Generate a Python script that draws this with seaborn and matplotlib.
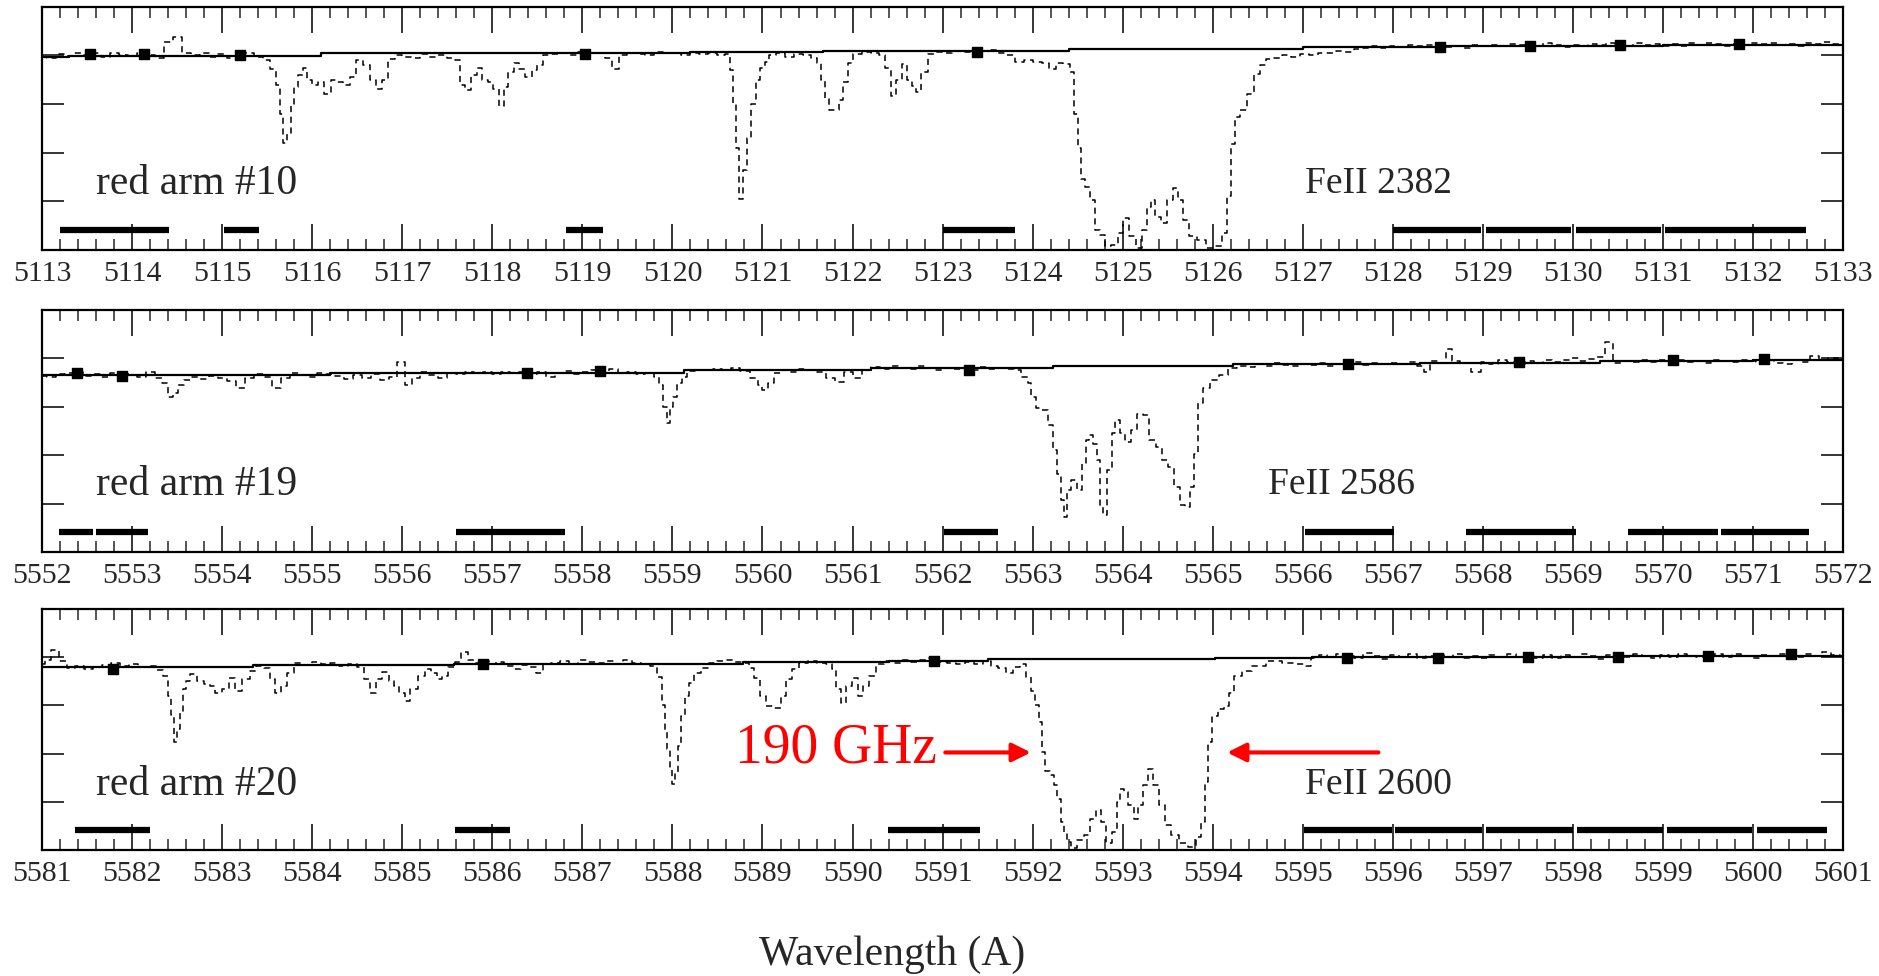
import numpy as np
import matplotlib
matplotlib.use("Agg")
import matplotlib.pyplot as plt
import seaborn as sns
from matplotlib.ticker import MultipleLocator, FormatStrFormatter

sns.set_style("white")
plt.rcParams['font.family'] = ['Liberation Serif', 'DejaVu Serif']

# ---------------- data ----------------
arm_labels = ["red arm #10", "red arm #19", "red arm #20"]
line_labels = ["FeII 2382", "FeII 2586", "FeII 2600"]
line_label_x = [5127.02, 5565.61, 5595.02]
x_ranges = [(5113, 5133), (5552, 5572), (5581, 5601)]

spec_arm10 = [
    (5113.00, 0.795), (5113.10, 0.790), (5113.20, 0.805), (5113.30, 0.798), (5113.40, 0.812),
    (5113.50, 0.800), (5113.60, 0.808), (5113.70, 0.795), (5113.80, 0.810), (5113.90, 0.802),
    (5114.00, 0.796), (5114.10, 0.810), (5114.20, 0.800), (5114.30, 0.790), (5114.40, 0.855),
    (5114.50, 0.875), (5114.60, 0.812), (5114.70, 0.800), (5114.80, 0.808), (5114.90, 0.795),
    (5115.00, 0.805), (5115.10, 0.790), (5115.20, 0.808), (5115.30, 0.812), (5115.40, 0.795),
    (5115.50, 0.780), (5115.57, 0.745), (5115.62, 0.680), (5115.66, 0.560), (5115.70, 0.440),
    (5115.74, 0.480), (5115.78, 0.600), (5115.82, 0.670), (5115.87, 0.720), (5115.92, 0.750),
    (5115.97, 0.700), (5116.03, 0.680), (5116.10, 0.690), (5116.17, 0.640), (5116.24, 0.700),
    (5116.30, 0.690), (5116.38, 0.680), (5116.45, 0.710), (5116.52, 0.780), (5116.60, 0.760),
    (5116.68, 0.700), (5116.74, 0.660), (5116.80, 0.700), (5116.88, 0.785), (5116.95, 0.800),
    (5117.05, 0.795), (5117.15, 0.790), (5117.25, 0.805), (5117.35, 0.795), (5117.45, 0.800),
    (5117.55, 0.790), (5117.62, 0.780), (5117.67, 0.680), (5117.72, 0.656), (5117.80, 0.720),
    (5117.86, 0.750), (5117.92, 0.700), (5117.98, 0.690), (5118.04, 0.660), (5118.10, 0.590),
    (5118.15, 0.670), (5118.20, 0.730), (5118.27, 0.770), (5118.33, 0.745), (5118.40, 0.710),
    (5118.47, 0.740), (5118.53, 0.760), (5118.60, 0.800), (5118.70, 0.805), (5118.80, 0.812),
    (5118.90, 0.800), (5119.00, 0.815), (5119.10, 0.808), (5119.20, 0.812), (5119.30, 0.790),
    (5119.36, 0.745), (5119.45, 0.800), (5119.55, 0.812), (5119.65, 0.805), (5119.75, 0.800),
    (5119.85, 0.815), (5119.95, 0.808), (5120.05, 0.810), (5120.15, 0.800), (5120.25, 0.812),
    (5120.35, 0.805), (5120.45, 0.808), (5120.55, 0.800), (5120.62, 0.806), (5120.66, 0.740),
    (5120.69, 0.600), (5120.72, 0.420), (5120.76, 0.210), (5120.80, 0.330), (5120.85, 0.460),
    (5120.90, 0.600), (5120.95, 0.700), (5121.00, 0.750), (5121.05, 0.775), (5121.10, 0.800),
    (5121.20, 0.810), (5121.30, 0.795), (5121.40, 0.805), (5121.50, 0.800), (5121.58, 0.790),
    (5121.63, 0.770), (5121.67, 0.700), (5121.71, 0.620), (5121.76, 0.574), (5121.82, 0.574),
    (5121.87, 0.615), (5121.92, 0.690), (5121.97, 0.770), (5122.05, 0.805), (5122.15, 0.815),
    (5122.25, 0.810), (5122.33, 0.800), (5122.40, 0.750), (5122.45, 0.635), (5122.52, 0.700),
    (5122.58, 0.765), (5122.63, 0.700), (5122.68, 0.676), (5122.73, 0.650), (5122.80, 0.730),
    (5122.87, 0.806), (5122.95, 0.815), (5123.05, 0.812), (5123.15, 0.820), (5123.25, 0.815),
    (5123.35, 0.825), (5123.45, 0.818), (5123.55, 0.822), (5123.65, 0.812), (5123.75, 0.800),
    (5123.85, 0.775), (5123.95, 0.780), (5124.05, 0.775), (5124.15, 0.770), (5124.22, 0.745),
    (5124.30, 0.770), (5124.38, 0.765), (5124.44, 0.730), (5124.48, 0.560), (5124.52, 0.420),
    (5124.56, 0.290), (5124.61, 0.260), (5124.67, 0.205), (5124.72, 0.080), (5124.78, 0.060),
    (5124.83, 0.014), (5124.92, 0.020), (5124.97, 0.068), (5125.04, 0.130), (5125.11, 0.055),
    (5125.19, 0.007), (5125.24, 0.080), (5125.29, 0.178), (5125.33, 0.205), (5125.38, 0.137),
    (5125.46, 0.110), (5125.53, 0.205), (5125.58, 0.253), (5125.64, 0.205), (5125.70, 0.123),
    (5125.78, 0.055), (5125.88, 0.040), (5125.98, 0.007), (5126.07, 0.014), (5126.14, 0.068),
    (5126.18, 0.220), (5126.22, 0.437), (5126.27, 0.546), (5126.34, 0.574), (5126.42, 0.640),
    (5126.49, 0.724), (5126.56, 0.760), (5126.63, 0.785), (5126.72, 0.790), (5126.82, 0.800),
    (5126.92, 0.795), (5127.02, 0.805), (5127.12, 0.800), (5127.22, 0.812), (5127.32, 0.808),
    (5127.42, 0.820), (5127.52, 0.815), (5127.62, 0.828), (5127.72, 0.832), (5127.82, 0.838),
    (5127.92, 0.830), (5128.02, 0.840), (5128.12, 0.835), (5128.22, 0.845), (5128.32, 0.838),
    (5128.42, 0.842), (5128.52, 0.845), (5128.62, 0.835), (5128.72, 0.840), (5128.82, 0.830),
    (5128.92, 0.842), (5129.02, 0.838), (5129.12, 0.845), (5129.22, 0.840), (5129.32, 0.848),
    (5129.42, 0.842), (5129.52, 0.845), (5129.62, 0.838), (5129.72, 0.850), (5129.82, 0.842),
    (5129.92, 0.835), (5130.02, 0.845), (5130.12, 0.840), (5130.22, 0.848), (5130.32, 0.842),
    (5130.42, 0.852), (5130.52, 0.845), (5130.62, 0.838), (5130.72, 0.850), (5130.82, 0.842),
    (5130.92, 0.848), (5131.02, 0.840), (5131.12, 0.846), (5131.22, 0.838), (5131.32, 0.850),
    (5131.42, 0.844), (5131.52, 0.852), (5131.62, 0.846), (5131.72, 0.840), (5131.82, 0.848),
    (5131.92, 0.842), (5132.02, 0.852), (5132.12, 0.846), (5132.22, 0.850), (5132.32, 0.842),
    (5132.42, 0.848), (5132.52, 0.838), (5132.62, 0.852), (5132.72, 0.846), (5132.82, 0.855),
    (5132.92, 0.848), (5133.00, 0.850),
]

spec_arm19 = [
    (5552.00, 0.728), (5552.10, 0.722), (5552.20, 0.735), (5552.30, 0.740), (5552.40, 0.745),
    (5552.50, 0.728), (5552.60, 0.735), (5552.70, 0.725), (5552.80, 0.738), (5552.90, 0.742),
    (5553.00, 0.730), (5553.10, 0.722), (5553.20, 0.745), (5553.30, 0.720), (5553.37, 0.697),
    (5553.43, 0.641), (5553.48, 0.655), (5553.54, 0.690), (5553.62, 0.712), (5553.70, 0.725),
    (5553.80, 0.715), (5553.90, 0.728), (5554.00, 0.718), (5554.10, 0.705), (5554.20, 0.676),
    (5554.30, 0.720), (5554.40, 0.735), (5554.50, 0.725), (5554.60, 0.676), (5554.70, 0.720),
    (5554.80, 0.738), (5554.90, 0.730), (5555.00, 0.722), (5555.10, 0.740), (5555.20, 0.735),
    (5555.30, 0.728), (5555.40, 0.715), (5555.50, 0.732), (5555.60, 0.720), (5555.70, 0.735),
    (5555.80, 0.712), (5555.90, 0.725), (5555.99, 0.786), (5556.07, 0.690), (5556.15, 0.720),
    (5556.25, 0.745), (5556.35, 0.730), (5556.45, 0.718), (5556.55, 0.740), (5556.65, 0.735),
    (5556.75, 0.745), (5556.85, 0.738), (5556.95, 0.742), (5557.05, 0.735), (5557.15, 0.745),
    (5557.25, 0.738), (5557.35, 0.742), (5557.45, 0.735), (5557.55, 0.745), (5557.65, 0.725),
    (5557.75, 0.740), (5557.85, 0.748), (5557.95, 0.735), (5558.05, 0.742), (5558.15, 0.750),
    (5558.25, 0.745), (5558.35, 0.758), (5558.45, 0.740), (5558.55, 0.745), (5558.65, 0.735),
    (5558.75, 0.740), (5558.83, 0.725), (5558.88, 0.690), (5558.92, 0.600), (5558.95, 0.531),
    (5558.99, 0.600), (5559.03, 0.641), (5559.08, 0.697), (5559.13, 0.724), (5559.20, 0.748),
    (5559.30, 0.752), (5559.40, 0.750), (5559.50, 0.755), (5559.60, 0.752), (5559.70, 0.760),
    (5559.80, 0.748), (5559.92, 0.717), (5559.97, 0.690), (5560.03, 0.669), (5560.10, 0.700),
    (5560.16, 0.740), (5560.25, 0.752), (5560.35, 0.745), (5560.45, 0.755), (5560.55, 0.750),
    (5560.65, 0.742), (5560.75, 0.720), (5560.85, 0.703), (5560.95, 0.745), (5561.07, 0.717),
    (5561.15, 0.750), (5561.25, 0.765), (5561.35, 0.758), (5561.45, 0.770), (5561.55, 0.762),
    (5561.65, 0.755), (5561.75, 0.768), (5561.85, 0.760), (5561.95, 0.752), (5562.05, 0.762),
    (5562.15, 0.755), (5562.25, 0.760), (5562.35, 0.752), (5562.45, 0.765), (5562.55, 0.755),
    (5562.65, 0.762), (5562.75, 0.758), (5562.83, 0.750), (5562.92, 0.725), (5562.97, 0.697),
    (5563.00, 0.641), (5563.07, 0.593), (5563.14, 0.586), (5563.20, 0.524), (5563.25, 0.420),
    (5563.29, 0.324), (5563.33, 0.214), (5563.36, 0.145), (5563.40, 0.255), (5563.46, 0.297),
    (5563.52, 0.255), (5563.57, 0.366), (5563.61, 0.462), (5563.65, 0.483), (5563.69, 0.448),
    (5563.73, 0.379), (5563.76, 0.186), (5563.80, 0.152), (5563.86, 0.338), (5563.90, 0.490),
    (5563.94, 0.545), (5564.00, 0.490), (5564.06, 0.455), (5564.12, 0.503), (5564.19, 0.572),
    (5564.26, 0.566), (5564.33, 0.462), (5564.40, 0.434), (5564.47, 0.379), (5564.53, 0.352),
    (5564.60, 0.269), (5564.67, 0.193), (5564.72, 0.186), (5564.77, 0.269), (5564.82, 0.407),
    (5564.86, 0.614), (5564.92, 0.676), (5565.02, 0.710), (5565.12, 0.731), (5565.22, 0.759),
    (5565.32, 0.770), (5565.42, 0.765), (5565.52, 0.775), (5565.62, 0.770), (5565.72, 0.780),
    (5565.82, 0.772), (5565.92, 0.768), (5566.02, 0.778), (5566.12, 0.772), (5566.22, 0.782),
    (5566.32, 0.770), (5566.42, 0.778), (5566.52, 0.775), (5566.62, 0.785), (5566.72, 0.772),
    (5566.82, 0.780), (5566.92, 0.775), (5567.02, 0.782), (5567.12, 0.778), (5567.22, 0.785),
    (5567.32, 0.770), (5567.37, 0.745), (5567.45, 0.790), (5567.55, 0.782), (5567.62, 0.840),
    (5567.70, 0.788), (5567.80, 0.780), (5567.93, 0.745), (5568.02, 0.785), (5568.12, 0.778),
    (5568.22, 0.792), (5568.32, 0.785), (5568.42, 0.778), (5568.52, 0.788), (5568.62, 0.780),
    (5568.72, 0.792), (5568.82, 0.785), (5568.92, 0.795), (5569.02, 0.800), (5569.12, 0.790),
    (5569.22, 0.798), (5569.32, 0.805), (5569.40, 0.869), (5569.48, 0.780), (5569.58, 0.790),
    (5569.68, 0.785), (5569.78, 0.792), (5569.88, 0.785), (5569.98, 0.795), (5570.08, 0.788),
    (5570.18, 0.792), (5570.28, 0.785), (5570.38, 0.790), (5570.48, 0.782), (5570.58, 0.795),
    (5570.68, 0.790), (5570.78, 0.785), (5570.88, 0.795), (5570.98, 0.790), (5571.08, 0.785),
    (5571.18, 0.792), (5571.28, 0.780), (5571.38, 0.775), (5571.48, 0.792), (5571.58, 0.785),
    (5571.68, 0.810), (5571.78, 0.795), (5571.88, 0.802), (5572.00, 0.798),
]

spec_arm20 = [
    (5581.00, 0.770), (5581.06, 0.790), (5581.14, 0.832), (5581.24, 0.784), (5581.32, 0.755),
    (5581.42, 0.765), (5581.52, 0.750), (5581.62, 0.758), (5581.72, 0.768), (5581.82, 0.775),
    (5581.92, 0.762), (5582.02, 0.770), (5582.12, 0.758), (5582.22, 0.765), (5582.30, 0.745),
    (5582.38, 0.722), (5582.42, 0.640), (5582.45, 0.560), (5582.48, 0.447), (5582.52, 0.502),
    (5582.55, 0.571), (5582.58, 0.667), (5582.62, 0.700), (5582.67, 0.729), (5582.76, 0.702),
    (5582.84, 0.690), (5582.90, 0.681), (5582.95, 0.653), (5583.05, 0.667), (5583.11, 0.715),
    (5583.18, 0.660), (5583.27, 0.708), (5583.34, 0.743), (5583.42, 0.765), (5583.50, 0.755),
    (5583.56, 0.708), (5583.62, 0.653), (5583.69, 0.681), (5583.75, 0.736), (5583.85, 0.775),
    (5583.95, 0.768), (5584.05, 0.780), (5584.15, 0.770), (5584.25, 0.778), (5584.35, 0.765),
    (5584.45, 0.772), (5584.55, 0.760), (5584.61, 0.708), (5584.67, 0.653), (5584.74, 0.708),
    (5584.82, 0.740), (5584.88, 0.700), (5584.93, 0.681), (5584.99, 0.653), (5585.06, 0.619),
    (5585.12, 0.667), (5585.22, 0.722), (5585.28, 0.750), (5585.35, 0.735), (5585.41, 0.708),
    (5585.47, 0.722), (5585.55, 0.760), (5585.62, 0.780), (5585.69, 0.821), (5585.76, 0.790),
    (5585.84, 0.775), (5585.92, 0.785), (5586.00, 0.772), (5586.08, 0.780), (5586.18, 0.765),
    (5586.27, 0.750), (5586.37, 0.768), (5586.45, 0.760), (5586.52, 0.736), (5586.60, 0.770),
    (5586.70, 0.778), (5586.80, 0.785), (5586.90, 0.772), (5587.00, 0.790), (5587.10, 0.780),
    (5587.20, 0.775), (5587.30, 0.785), (5587.40, 0.770), (5587.50, 0.790), (5587.60, 0.778),
    (5587.70, 0.772), (5587.80, 0.763), (5587.86, 0.720), (5587.90, 0.600), (5587.93, 0.500),
    (5587.96, 0.420), (5587.98, 0.340), (5588.01, 0.275), (5588.05, 0.323), (5588.08, 0.433),
    (5588.11, 0.557), (5588.16, 0.640), (5588.21, 0.695), (5588.27, 0.736), (5588.37, 0.757),
    (5588.45, 0.775), (5588.55, 0.785), (5588.65, 0.790), (5588.75, 0.782), (5588.82, 0.775),
    (5588.88, 0.757), (5588.94, 0.715), (5589.00, 0.640), (5589.07, 0.598), (5589.17, 0.591),
    (5589.23, 0.640), (5589.29, 0.708), (5589.36, 0.750), (5589.45, 0.775), (5589.55, 0.785),
    (5589.65, 0.778), (5589.75, 0.772), (5589.80, 0.750), (5589.84, 0.667), (5589.90, 0.612),
    (5589.96, 0.681), (5590.03, 0.715), (5590.09, 0.640), (5590.15, 0.681), (5590.22, 0.722),
    (5590.30, 0.770), (5590.40, 0.785), (5590.50, 0.778), (5590.60, 0.790), (5590.70, 0.782),
    (5590.80, 0.788), (5590.90, 0.795), (5591.00, 0.780), (5591.10, 0.775), (5591.20, 0.772),
    (5591.30, 0.780), (5591.40, 0.770), (5591.50, 0.785), (5591.58, 0.765), (5591.66, 0.755),
    (5591.74, 0.736), (5591.82, 0.760), (5591.90, 0.770), (5591.96, 0.720), (5592.00, 0.660),
    (5592.05, 0.600), (5592.09, 0.530), (5592.12, 0.406), (5592.16, 0.330), (5592.22, 0.310),
    (5592.26, 0.268), (5592.29, 0.213), (5592.33, 0.117), (5592.36, 0.076), (5592.40, 0.034),
    (5592.45, 0.007), (5592.54, 0.041), (5592.61, 0.062), (5592.67, 0.131), (5592.73, 0.165),
    (5592.78, 0.117), (5592.85, 0.028), (5592.92, 0.076), (5592.95, 0.200), (5592.99, 0.254),
    (5593.03, 0.240), (5593.09, 0.186), (5593.15, 0.131), (5593.19, 0.186), (5593.26, 0.268),
    (5593.31, 0.337), (5593.37, 0.268), (5593.44, 0.186), (5593.50, 0.103), (5593.57, 0.062),
    (5593.68, 0.028), (5593.78, 0.014), (5593.85, 0.055), (5593.90, 0.117), (5593.93, 0.282),
    (5593.97, 0.447), (5594.02, 0.557), (5594.09, 0.585), (5594.16, 0.598), (5594.21, 0.653),
    (5594.27, 0.722), (5594.37, 0.743), (5594.51, 0.763), (5594.68, 0.784), (5594.85, 0.777),
    (5595.00, 0.770), (5595.06, 0.763), (5595.13, 0.798), (5595.22, 0.808), (5595.32, 0.800),
    (5595.42, 0.812), (5595.52, 0.805), (5595.62, 0.798), (5595.72, 0.818), (5595.82, 0.805),
    (5595.92, 0.792), (5596.02, 0.808), (5596.12, 0.800), (5596.22, 0.812), (5596.32, 0.795),
    (5596.42, 0.805), (5596.52, 0.810), (5596.62, 0.800), (5596.72, 0.815), (5596.82, 0.795),
    (5596.92, 0.805), (5597.02, 0.798), (5597.12, 0.808), (5597.22, 0.800), (5597.32, 0.812),
    (5597.42, 0.802), (5597.52, 0.805), (5597.62, 0.798), (5597.72, 0.810), (5597.82, 0.795),
    (5597.92, 0.808), (5598.02, 0.800), (5598.12, 0.815), (5598.22, 0.805), (5598.32, 0.792),
    (5598.42, 0.808), (5598.52, 0.810), (5598.62, 0.800), (5598.72, 0.815), (5598.82, 0.805),
    (5598.92, 0.798), (5599.02, 0.810), (5599.12, 0.802), (5599.22, 0.812), (5599.32, 0.805),
    (5599.42, 0.800), (5599.52, 0.808), (5599.62, 0.815), (5599.72, 0.800), (5599.82, 0.812),
    (5599.92, 0.805), (5600.02, 0.798), (5600.12, 0.810), (5600.22, 0.805), (5600.32, 0.815),
    (5600.42, 0.808), (5600.52, 0.800), (5600.62, 0.812), (5600.72, 0.806), (5600.82, 0.820),
    (5600.92, 0.810), (5601.00, 0.805),
]

# continuum fits (step breakpoints, value)
cont_x_10 = [5113.0, 5113.3, 5116.1, 5120.2, 5121.67, 5124.4, 5127.0, 5128.5, 5131.0, 5133.0]
cont_y_10 = [0.792, 0.799, 0.809, 0.813, 0.820, 0.826, 0.834, 0.840, 0.845, 0.845]
cont_x_19 = [5552.0, 5555.2, 5559.13, 5561.2, 5563.23, 5565.23, 5567.3, 5569.3, 5571.0, 5572.0]
cont_y_19 = [0.731, 0.738, 0.752, 0.759, 0.768, 0.777, 0.783, 0.789, 0.794, 0.794]
cont_x_20 = [5581.0, 5583.34, 5585.57, 5588.78, 5590.4, 5591.5, 5594.02, 5595.1, 5598.5, 5601.0]
cont_y_20 = [0.761, 0.768, 0.774, 0.781, 0.786, 0.791, 0.796, 0.800, 0.804, 0.804]

# fit markers
mark_x_10 = [5113.53, 5114.13, 5115.20, 5119.03, 5123.38, 5128.52, 5129.52, 5130.52, 5131.84]
mark_y_10 = [0.806, 0.806, 0.800, 0.806, 0.813, 0.833, 0.840, 0.844, 0.847]
mark_x_19 = [5552.39, 5552.89, 5557.39, 5558.19, 5562.29, 5566.50, 5568.40, 5570.11, 5571.12]
mark_y_19 = [0.738, 0.727, 0.741, 0.749, 0.754, 0.775, 0.786, 0.793, 0.796]
mark_x_20 = [5581.79, 5585.90, 5590.91, 5595.49, 5596.50, 5597.50, 5598.50, 5599.50, 5600.42]
mark_y_20 = [0.752, 0.774, 0.784, 0.798, 0.798, 0.802, 0.802, 0.805, 0.814]

# fitting-region bars (start, end)
bar_start_10 = [5113.20, 5115.02, 5118.82, 5123.00, 5128.00, 5129.03, 5130.03, 5131.02]
bar_end_10 = [5114.41, 5115.41, 5119.23, 5123.80, 5128.98, 5129.98, 5130.98, 5132.59]
bar_start_19 = [5552.19, 5552.60, 5556.60, 5562.01, 5566.02, 5567.81, 5569.61, 5570.64]
bar_end_19 = [5552.57, 5553.18, 5557.81, 5562.62, 5567.01, 5569.03, 5570.61, 5571.62]
bar_start_20 = [5581.37, 5585.59, 5590.39, 5595.01, 5596.02, 5597.03, 5598.04, 5599.04, 5600.04]
bar_end_20 = [5582.20, 5586.20, 5591.41, 5595.99, 5596.99, 5598.00, 5599.00, 5599.99, 5600.82]

spectra = [spec_arm10, spec_arm19, spec_arm20]
conts = [(cont_x_10, cont_y_10), (cont_x_19, cont_y_19), (cont_x_20, cont_y_20)]
marks = [(mark_x_10, mark_y_10), (mark_x_19, mark_y_19), (mark_x_20, mark_y_20)]
bars = [(bar_start_10, bar_end_10), (bar_start_19, bar_end_19), (bar_start_20, bar_end_20)]
arm_label_y = [0.27, 0.28, 0.27]

# ---------------- figure ----------------
fig = plt.figure(figsize=(18.79, 9.76), dpi=100)
rects = [[0.0224, 0.744, 0.9585, 0.249],
         [0.0224, 0.4344, 0.9585, 0.248],
         [0.0224, 0.129, 0.9585, 0.247]]

axes = []
for i, rect in enumerate(rects):
    ax = fig.add_axes(rect)
    axes.append(ax)
    wl, fl = map(np.array, zip(*spectra[i]))
    sns.lineplot(x=wl, y=fl, ax=ax, color='black', lw=1.1, drawstyle='steps-mid',
                 estimator=None, sort=False)
    ax.lines[-1].set_linestyle((0, (4, 3)))
    cx, cy = conts[i]
    ax.plot(cx, cy, drawstyle='steps-post', color='black', lw=1.6)
    mx, my = marks[i]
    sns.scatterplot(x=mx, y=my, ax=ax, marker='s', s=60, color='black',
                    edgecolor='black', linewidth=1, zorder=5)
    bs, be = bars[i]
    ax.hlines([0.083] * len(bs), bs, be, color='black', lw=4.5)

    ax.set_xlim(*x_ranges[i])
    ax.set_ylim(0, 1)
    ax.xaxis.set_major_locator(MultipleLocator(1))
    ax.xaxis.set_minor_locator(MultipleLocator(0.2))
    ax.xaxis.set_major_formatter(FormatStrFormatter('%d'))
    ax.set_yticks([0.2, 0.4, 0.6, 0.8])
    ax.set_yticklabels([])
    ax.tick_params(axis='both', which='both', direction='in',
                   top=True, bottom=True, left=True, right=True)
    ax.tick_params(axis='x', which='major', length=19, width=1.3, labelsize=21.5, pad=8)
    ax.tick_params(axis='x', which='minor', length=8, width=1.1)
    ax.tick_params(axis='y', which='major', length=16, width=1.3)
    for s in ax.spines.values():
        s.set_linewidth(1.6)
        s.set_color('black')
    ax.set_xlabel('')
    ax.set_ylabel('')

    x0 = x_ranges[i][0]
    ax.text(x0 + 0.6, arm_label_y[i], arm_labels[i], fontsize=30, ha='left', va='center')
    ax.text(line_label_x[i], arm_label_y[i], line_labels[i], fontsize=27, ha='left', va='center')

# red annotation on the last panel
ax = axes[2]
ax.text(5590.94, 0.42, '190 GHz', color='red', fontsize=40, ha='right', va='center')
ax.annotate('', xy=(5591.98, 0.405), xytext=(5591.03, 0.405),
            arrowprops=dict(arrowstyle='-|>', color='red', lw=3, mutation_scale=28,
                            shrinkA=0, shrinkB=0))
ax.annotate('', xy=(5594.16, 0.405), xytext=(5595.84, 0.405),
            arrowprops=dict(arrowstyle='-|>', color='red', lw=3, mutation_scale=28,
                            shrinkA=0, shrinkB=0))

fig.text(0.475, 0.0215, 'Wavelength (A)', fontsize=30, ha='center', va='center')

fig.savefig('out.png', dpi=100, facecolor='white')
